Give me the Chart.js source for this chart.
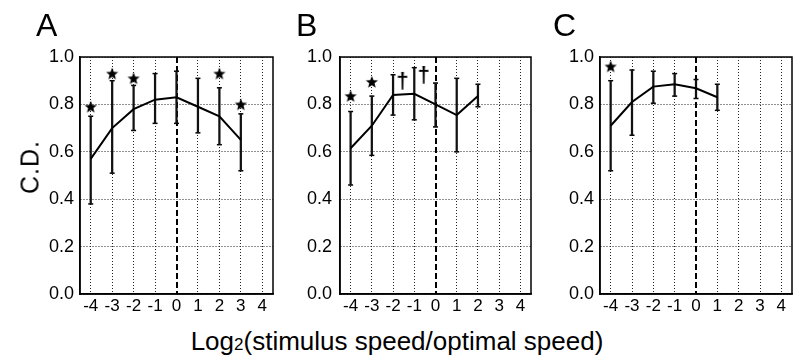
<!DOCTYPE html>
<html>
<head>
<meta charset="utf-8">
<script src="https://cdn.jsdelivr.net/npm/chart.js@4"></script>
<style>
body { margin: 0; background: #fff; }
#wrap { position: relative; width: 794px; height: 356px; overflow: hidden; font-family: "Liberation Sans", Arial, sans-serif; color: #000; }
canvas { position: absolute; top: 0; }
.letter { position: absolute; top: 9px; font-size: 32px; line-height: 1; }
#ylab { position: absolute; left: 30px; top: 167px; font-size: 25px; line-height: 1; letter-spacing: 1px; white-space: nowrap; transform: translate(-50%, -50%) rotate(-90deg); }
#xlab { position: absolute; left: 0; width: 794px; top: 328px; text-align: center; font-size: 26px; line-height: 1; white-space: nowrap; }
#xlab span { font-size: 17px; }
</style>
</head>
<body>
<div id="wrap">
  <canvas id="chartA" width="279" height="320" style="left:0px"></canvas>
  <canvas id="chartB" width="277" height="320" style="left:260px"></canvas>
  <canvas id="chartC" width="278" height="320" style="left:520px"></canvas>
  <div class="letter" style="left:36px">A</div>
  <div class="letter" style="left:296px">B</div>
  <div class="letter" style="left:553px">C</div>
  <div id="ylab">C.D.</div>
  <div id="xlab">Log<span>2</span>(stimulus speed/optimal speed)</div>
</div>
<script>
// tick labels
const xTicks = [-4, -3, -2, -1, 0, 1, 2, 3, 4];
const yTicks = [0, 0.2, 0.4, 0.6, 0.8, 1.0];

// panel A
const xA = [-4, -3, -2, -1, 0, 1, 2, 3];
const meanA = [0.57, 0.70, 0.78, 0.82, 0.83, 0.79, 0.75, 0.65];
const lowA = [0.38, 0.51, 0.69, 0.72, 0.72, 0.68, 0.63, 0.52];
const highA = [0.75, 0.90, 0.88, 0.93, 0.94, 0.91, 0.87, 0.76];
const starXA = [-4, -3, -2, 2, 3];
const starYA = [0.79, 0.93, 0.91, 0.93, 0.80];

// panel B
const xB = [-4, -3, -2, -1, 0, 1, 2];
const meanB = [0.615, 0.71, 0.84, 0.845, 0.80, 0.755, 0.835];
const lowB = [0.46, 0.585, 0.755, 0.735, 0.705, 0.60, 0.79];
const highB = [0.77, 0.835, 0.925, 0.955, 0.89, 0.91, 0.885];
const starXB = [-4, -3];
const starYB = [0.835, 0.895];
const daggerXB = [-1.56, -0.56];
const daggerYB = [0.895, 0.92];

// panel C
const xC = [-4, -3, -2, -1, 0, 1];
const meanC = [0.71, 0.81, 0.875, 0.885, 0.868, 0.83];
const lowC = [0.52, 0.67, 0.805, 0.835, 0.825, 0.775];
const highC = [0.90, 0.945, 0.94, 0.93, 0.905, 0.885];
const starXC = [-4];
const starYC = [0.96];

const FONT = '"Liberation Sans", Arial, sans-serif';

// little marker pictures used as point styles
function starImage() {
  const c = document.createElement('canvas');
  c.width = 14; c.height = 14;
  const g = c.getContext('2d');
  g.beginPath();
  for (let i = 0; i < 10; i++) {
    const r = i % 2 ? 2.8 : 6.4;
    const a = -Math.PI / 2 + i * Math.PI / 5;
    g.lineTo(7 + r * Math.cos(a), 7.5 + r * Math.sin(a));
  }
  g.closePath();
  g.fillStyle = '#000';
  g.fill();
  return c;
}

function daggerImage() {
  const c = document.createElement('canvas');
  c.width = 12; c.height = 24;
  const g = c.getContext('2d');
  g.fillStyle = '#000';
  g.font = 'bold 22px ' + FONT;
  g.textAlign = 'center';
  g.textBaseline = 'middle';
  g.fillText('\u2020', 6, 12);
  return c;
}

const star = starImage();
const dagger = daggerImage();

// box round the plot area
const framePlugin = {
  id: 'frame',
  beforeDatasetsDraw(chart) {
    const a = chart.chartArea, g = chart.ctx;
    g.save();
    g.strokeStyle = '#000';
    g.lineWidth = 1.5;
    g.strokeRect(a.left, a.top, a.right - a.left, a.bottom - a.top);
    g.restore();
  }
};

function points(xs, ys) {
  return xs.map((x, i) => ({ x: x, y: ys[i] }));
}

function makePanel(id, xs, mean, low, high, starX, starY, dagX, dagY, labelPad) {
  const datasets = [
    { type: 'line', data: points(xs, mean), borderColor: '#000', borderWidth: 2, pointRadius: 0, tension: 0, fill: false },
    { type: 'bar', data: xs.map((x, i) => ({ x: x, y: [low[i], high[i]] })), backgroundColor: '#111', barThickness: 1.6, grouped: false },
    { type: 'line', showLine: false, data: points(xs, low).concat(points(xs, high)),
      pointStyle: 'line', pointRadius: 2.5, pointBorderWidth: 1.5, pointBorderColor: '#000' },
    { type: 'line', showLine: false, data: points(starX, starY), pointStyle: star, pointRadius: 5 }
  ];
  if (dagX) {
    datasets.push({ type: 'line', showLine: false, data: points(dagX, dagY), pointStyle: dagger, pointRadius: 5 });
  }

  new Chart(document.getElementById(id), {
    type: 'line',
    data: { datasets: datasets },
    plugins: [framePlugin],
    options: {
      responsive: false,
      animation: false,
      layout: { padding: { top: 57, right: 2, left: 0, bottom: 0 } },
      plugins: { legend: { display: false }, tooltip: { enabled: false } },
      scales: {
        x: {
          type: 'linear', min: -4.5, max: 4.5, offset: false,
          afterBuildTicks: s => { s.ticks = xTicks.map(v => ({ value: v })); },
          afterFit: s => { s.height = 26; },
          grid: {
            offset: false, drawTicks: false,
            color: c => (c.tick && c.tick.value === 0) ? '#000' : '#222',
            lineWidth: c => (c.tick && c.tick.value === 0) ? 2 : 1
          },
          border: { color: '#000', width: 1.5, dash: c => (c.tick && c.tick.value === 0) ? [6, 3] : [1, 2] },
          ticks: { color: '#000', padding: 2, font: { family: FONT, size: 17 }, callback: v => String(v) }
        },
        y: {
          type: 'linear', min: 0, max: 1,
          afterBuildTicks: s => { s.ticks = yTicks.map(v => ({ value: v })); },
          afterFit: s => { s.width = 80; },
          grid: { drawTicks: false, color: '#222', lineWidth: 1 },
          border: { color: '#000', width: 1.5, dash: [1, 2] },
          ticks: { color: '#000', padding: labelPad, font: { family: FONT, size: 18 }, callback: v => v.toFixed(1) }
        }
      }
    }
  });
}

makePanel('chartA', xA, meanA, lowA, highA, starXA, starYA, null, null, 6);
makePanel('chartB', xB, meanB, lowB, highB, starXB, starYB, daggerXB, daggerYB, 8);
makePanel('chartC', xC, meanC, lowC, highC, starXC, starYC, null, null, 6);
</script>
</body>
</html>
